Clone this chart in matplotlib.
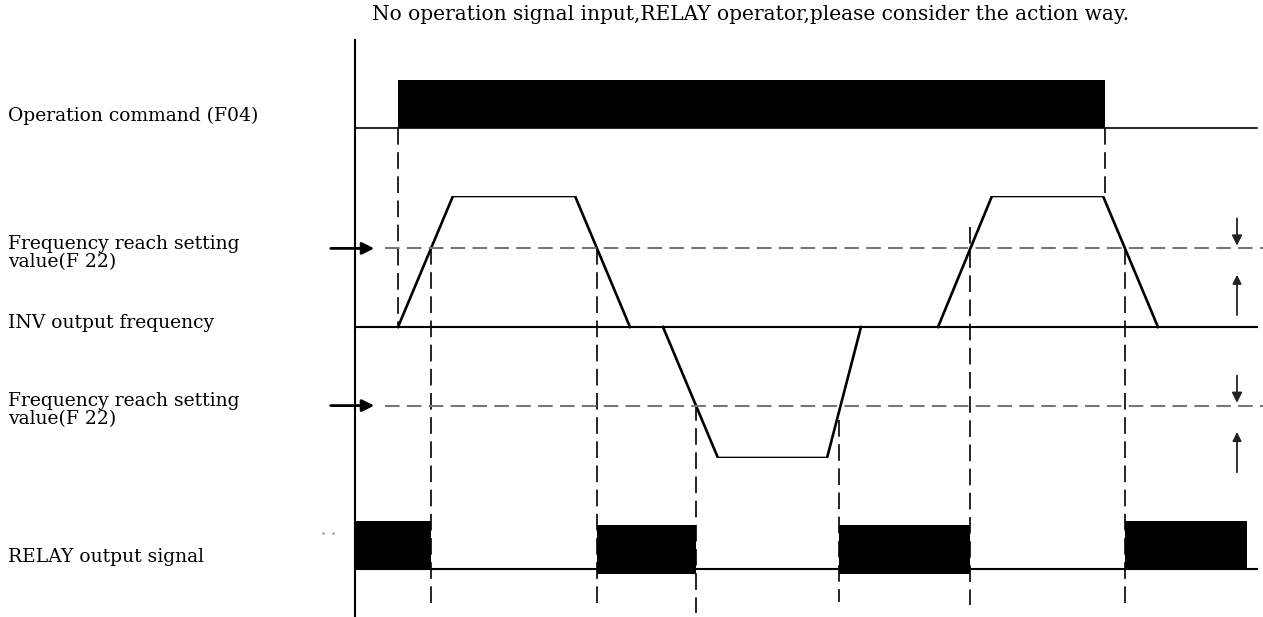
import numpy as np
import matplotlib.pyplot as plt
from matplotlib.patches import Rectangle

# event times along the diagram (pixel-like time units)
op_on, op_off = 398, 1105
# INV output frequency profile (time, normalised frequency)
inv_t1 = [398, 453, 575, 630]
inv_f1 = [0, 1, 1, 0]
inv_t2 = [663, 718, 827, 861]
inv_f2 = [0, -1, -1, 0]
inv_t3 = [938, 992, 1103, 1158]
inv_f3 = [0, 1, 1, 0]
reach_level = 0.6
# crossings of the reach level -> relay transitions
cross_t = [431, 597, 696, 839, 970, 1125]
relay_on = [(355, 431), (597, 696), (839, 970), (1125, 1247)]
relay_top = [521, 525, 525, 521]
relay_bot = [569, 574, 574, 569]

title = "No operation signal input,RELAY operator,please consider the action way."
labels = ["Operation command (F04)", "Frequency reach setting\nvalue(F 22)",
          "INV output frequency", "Frequency reach setting\nvalue(F 22)",
          "RELAY output signal"]
label_y = [116, 253, 323, 410, 557]

W, H = 1263, 617
fig = plt.figure(figsize=(W / 100, H / 100), dpi=100)
ax = fig.add_axes([0, 0, 1, 1])
ax.set_xlim(0, W)
ax.set_ylim(H, 0)
ax.axis('off')

# INV frequency axes: f=+1 at y=196, f=-1 at y=458
top, bot = 196, 458
axf = fig.add_axes([0, (H - bot) / H, 1, (bot - top) / H])
axf.set_xlim(0, W)
axf.set_ylim(-1, 1)
axf.axis('off')
axf.patch.set_alpha(0)

font = dict(family=['DejaVu Serif'], fontsize=13.5, color='black')

ax.text(372, 14, title, va='center', ha='left',
        family=['DejaVu Serif'], fontsize=14.5, color='black')
for lab, y in zip(labels, label_y):
    ax.text(8, y, lab, va='center', ha='left', linespacing=0.95, **font)

# time axis
ax.plot([355, 355], [40, H], color='black', lw=1.5)

# operation command
ax.add_patch(Rectangle((op_on, 80), op_off - op_on, 48, color='black', lw=0, zorder=3))
ax.plot([355, 1257], [128, 128], color='black', lw=1.2)

# INV output frequency
axf.plot([355, 1257], [0, 0], color='black', lw=1.5)
for t, f in [(inv_t1, inv_f1), (inv_t2, inv_f2), (inv_t3, inv_f3)]:
    axf.plot(t, f, color='black', lw=1.9)
for lv in (reach_level, -reach_level):
    axf.plot([385, 1263], [lv, lv], color='#777777', lw=1.5, dashes=(7, 3.5))
    axf.annotate('', xy=(377, lv), xytext=(328, lv),
                 arrowprops=dict(arrowstyle='-|>', color='black', lw=2.0,
                                 mutation_scale=18))
    # tolerance arrows at right
    axf.annotate('', xy=(1237, lv), xytext=(1237, lv + 0.25),
                 arrowprops=dict(arrowstyle='-|>', color='#222222', lw=1.3,
                                 mutation_scale=15))
    axf.annotate('', xy=(1237, lv - 0.18), xytext=(1237, lv - 0.53),
                 arrowprops=dict(arrowstyle='-|>', color='#222222', lw=1.3,
                                 mutation_scale=13))

# dashed guide lines
vdash = dict(color='black', lw=1.2, dashes=(10, 4.5))
ax.plot([op_on, op_on], [128, 325], **vdash)
ax.plot([op_off, op_off], [128, 196], **vdash)
guide_top = [248, 248, 404, 420, 227, 248]
guide_bot = [605, 610, 613, 602, 605, 605]
for t, y0, y1 in zip(cross_t, guide_top, guide_bot):
    ax.plot([t, t], [y0, y1], **vdash)

# RELAY output
ax.plot([355, 1257], [569, 569], color='black', lw=1.5)
for (a, b), y0, y1 in zip(relay_on, relay_top, relay_bot):
    ax.add_patch(Rectangle((a, y0), b - a, y1 - y0, color='black', lw=0, zorder=3))
ax.plot([323, 333], [533, 533], ls='none', marker='.', ms=1.5, color='#999999')

fig.savefig('out.png', dpi=100)
